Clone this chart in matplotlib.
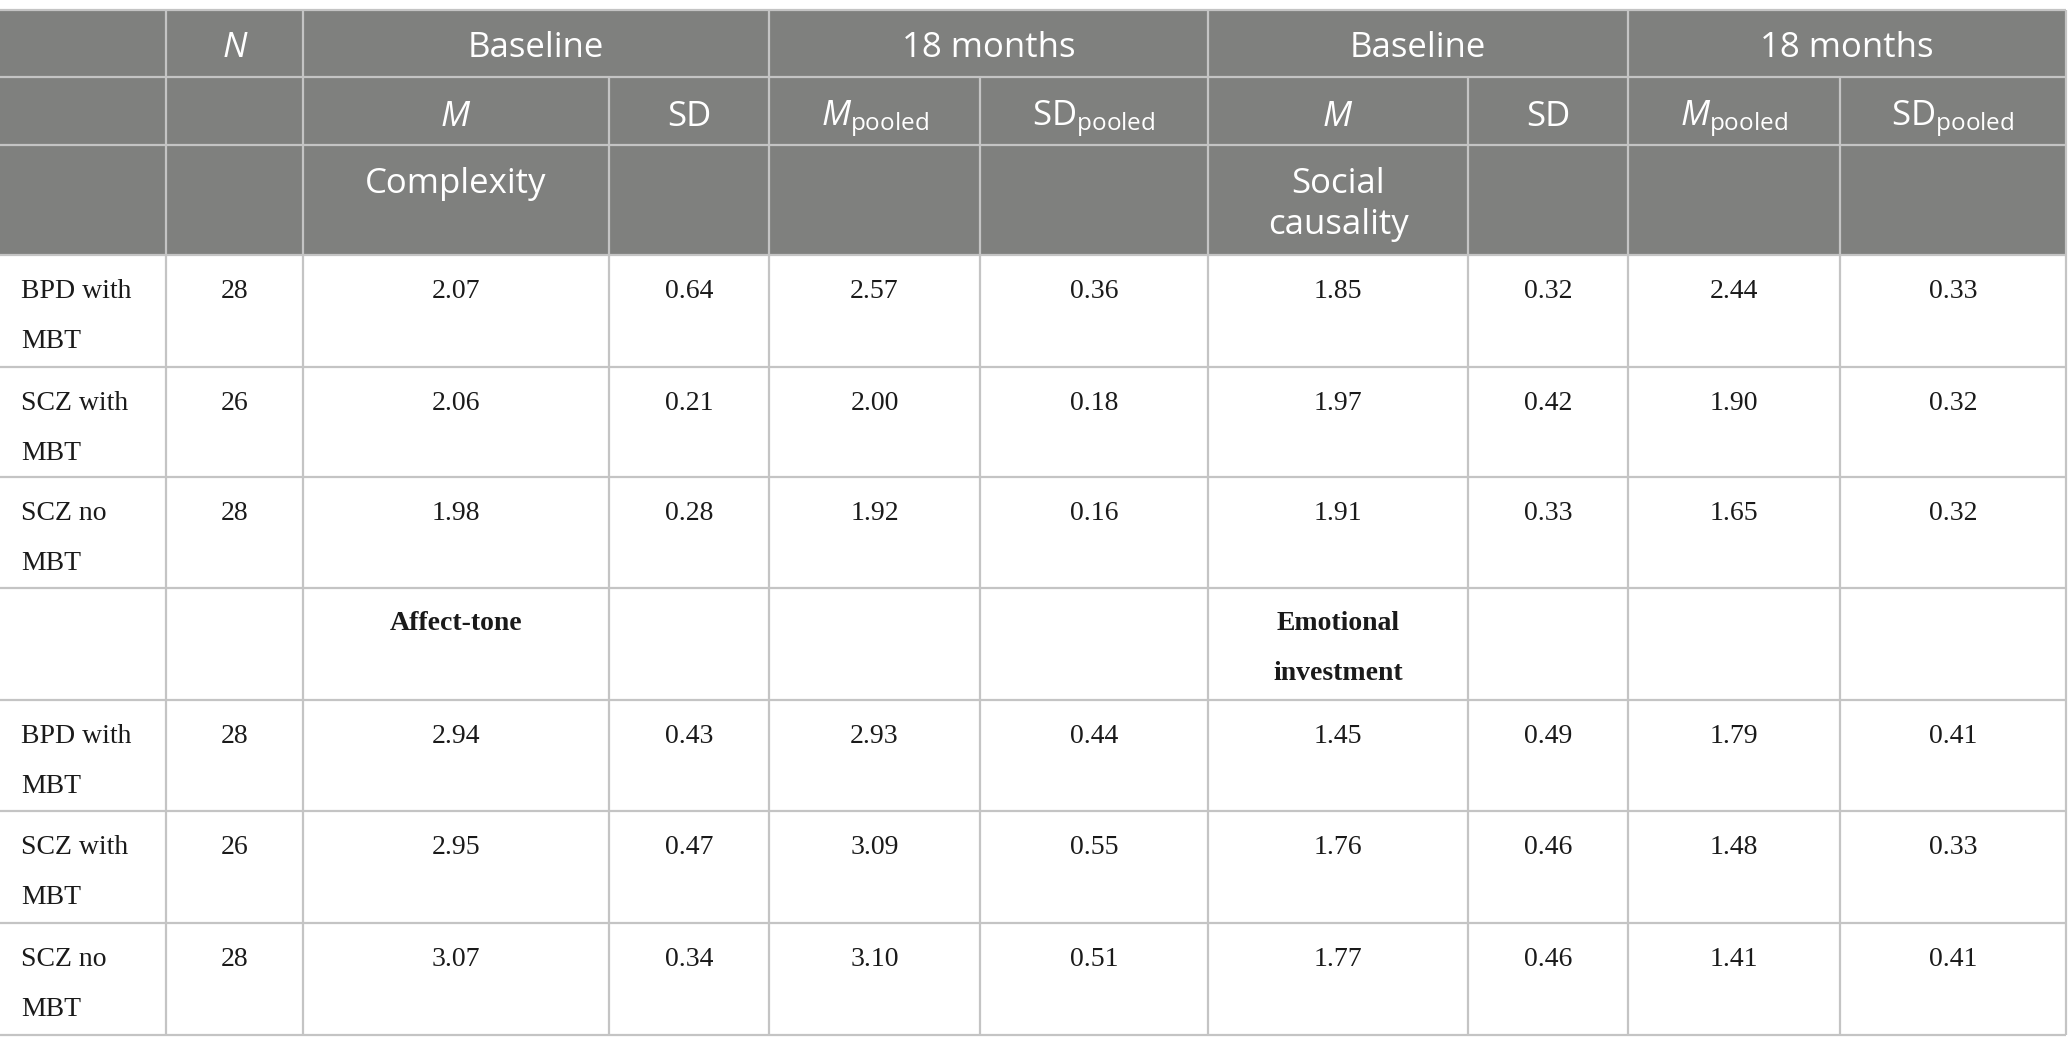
import matplotlib
matplotlib.use("Agg")
import matplotlib.pyplot as plt
from matplotlib.patches import Rectangle

# ---- data ----
groups = ["BPD with\nMBT", "SCZ with\nMBT", "SCZ no\nMBT"]
n_values = [28, 26, 28]

complexity_m = [2.07, 2.06, 1.98]
complexity_sd = [0.64, 0.21, 0.28]
complexity_m18 = [2.57, 2.00, 1.92]
complexity_sd18 = [0.36, 0.18, 0.16]

social_m = [1.85, 1.97, 1.91]
social_sd = [0.32, 0.42, 0.33]
social_m18 = [2.44, 1.90, 1.65]
social_sd18 = [0.33, 0.32, 0.32]

affect_m = [2.94, 2.95, 3.07]
affect_sd = [0.43, 0.47, 0.34]
affect_m18 = [2.93, 3.09, 3.10]
affect_sd18 = [0.44, 0.55, 0.51]

emotional_m = [1.45, 1.76, 1.77]
emotional_sd = [0.49, 0.46, 0.46]
emotional_m18 = [1.79, 1.48, 1.41]
emotional_sd18 = [0.41, 0.33, 0.41]

period_labels = ["Baseline", "18 months", "Baseline", "18 months"]
stat_labels = [r"$\mathit{M}$", "SD", r"$\mathit{M}_{\mathrm{pooled}}$", r"$\mathrm{SD}_{\mathrm{pooled}}$"] * 2
scale_titles = [("Complexity", "Social\ncausality"), ("Affect-tone", "Emotional\ninvestment")]

# ---- layout (pixels) ----
W, H = 2068, 1049
col_x = [0, 166, 303, 609, 769, 980, 1208, 1468, 1628, 1840, 2066]
head_y = [10, 77, 145, 255]
body_y = [255, 367, 477, 588, 700, 811, 923, 1035]

HEAD_BG = "#7f807e"
LINE = "#c4c4c4"
SANS = "Open Sans"
SERIF = "Liberation Serif"

plt.rcParams["mathtext.fontset"] = "custom"
plt.rcParams["mathtext.rm"] = SANS
plt.rcParams["mathtext.it"] = SANS + ":italic"

fig = plt.figure(figsize=(W / 100, H / 100), dpi=100)
ax = fig.add_axes([0, 0, 1, 1])
ax.set_xlim(0, W)
ax.set_ylim(H, 0)
ax.axis("off")

ax.add_patch(Rectangle((0, head_y[0]), col_x[-1], head_y[-1] - head_y[0], color=HEAD_BG, lw=0, zorder=0))


def cx(i):
    return (col_x[i] + col_x[i + 1]) / 2


def hline(y):
    ax.plot([0, col_x[-1]], [y, y], color=LINE, lw=1.6, zorder=2, solid_capstyle="butt")


def vline(x, y0, y1):
    ax.plot([x, x], [y0, y1], color=LINE, lw=1.6, zorder=2, solid_capstyle="butt")


def lines_text(x, y, s, spacing, **kw):
    for k, part in enumerate(s.split("\n")):
        ax.text(x, y + k * spacing, part, va="baseline", zorder=3, **kw)


# grid
for y in head_y + body_y[1:]:
    hline(y)
for x in [166, 303, 769, 1208, 1628]:
    vline(x, head_y[0], head_y[1])
for x in col_x[1:]:
    vline(x, head_y[1], body_y[-1])
vline(col_x[-1], head_y[0], head_y[1])

# header
hk = dict(color="white", fontsize=25, family=SANS)
ax.text(cx(1), 57, "N", ha="center", va="baseline", style="italic", **hk)
for j, lab in enumerate(period_labels):
    xm = (col_x[2 + 2 * j] + col_x[4 + 2 * j]) / 2
    ax.text(xm, 57, lab, ha="center", va="baseline", **hk)
for j, lab in enumerate(stat_labels):
    ax.text(cx(2 + j), 126, lab, ha="center", va="baseline", **hk)
lines_text(cx(2), 193, scale_titles[0][0], 41, ha="center", **hk)
lines_text(cx(6), 193, scale_titles[0][1], 41, ha="center", **hk)

# body
bk = dict(color="#1a1a1a", fontsize=20, family=SERIF)
blocks = [
    (0, [complexity_m, complexity_sd, complexity_m18, complexity_sd18,
         social_m, social_sd, social_m18, social_sd18]),
    (4, [affect_m, affect_sd, affect_m18, affect_sd18,
         emotional_m, emotional_sd, emotional_m18, emotional_sd18]),
]
for start, cols in blocks:
    for r, grp in enumerate(groups):
        top = body_y[start + r]
        lines_text(21, top + 43, grp, 50, ha="left", **bk)
        ax.text(cx(1), top + 43, str(n_values[r]), ha="center", va="baseline", **bk)
        for j, vals in enumerate(cols):
            ax.text(cx(2 + j), top + 43, f"{vals[r]:.2f}", ha="center", va="baseline", **bk)

# section row
sec_top = body_y[3]
lines_text(cx(2), sec_top + 42, scale_titles[1][0], 50, ha="center", fontweight="bold", **bk)
lines_text(cx(6), sec_top + 42, scale_titles[1][1], 50, ha="center", fontweight="bold", **bk)

fig.savefig("out.png", dpi=100, facecolor="white")
